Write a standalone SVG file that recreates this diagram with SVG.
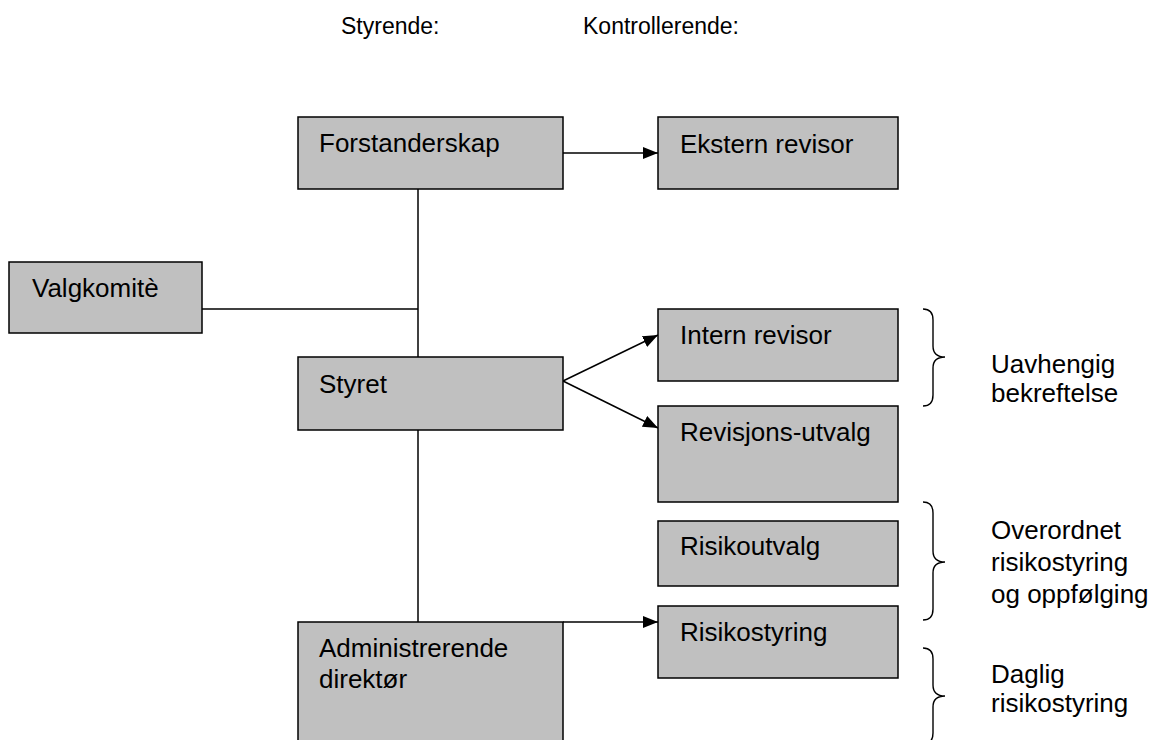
<svg xmlns="http://www.w3.org/2000/svg" width="1161" height="740" viewBox="0 0 1161 740">
<style>
.box{fill:#c0c0c0;stroke:#000;stroke-width:1.5}
.t{font-family:"Liberation Sans",Arial,sans-serif;font-size:26px;fill:#000}
.h{font-family:"Liberation Sans",Arial,sans-serif;font-size:23px;fill:#000}
.ln{stroke:#000;stroke-width:1.5;fill:none}
.br{stroke:#000;stroke-width:1.4;fill:none}
</style>
<defs>
<marker id="arr" viewBox="0 0 15 12" refX="15" refY="6" markerWidth="15" markerHeight="12" markerUnits="userSpaceOnUse" orient="auto">
<path d="M0,0 L15,6 L0,12 Z" fill="#000"/>
</marker>
</defs>
<rect width="1161" height="740" fill="#fff"/>
<text class="h" x="341" y="34">Styrende:</text>
<text class="h" x="583" y="34">Kontrollerende:</text>
<g id="connectors">
<line class="ln" x1="418" y1="189" x2="418" y2="357"/>
<line class="ln" x1="418" y1="430" x2="418" y2="622"/>
<line class="ln" x1="202" y1="309" x2="418" y2="309"/>
<line class="ln" x1="563" y1="153" x2="658" y2="153" marker-end="url(#arr)"/>
<line class="ln" x1="563" y1="381" x2="658" y2="335" marker-end="url(#arr)"/>
<line class="ln" x1="563" y1="381" x2="658" y2="428" marker-end="url(#arr)"/>
<line class="ln" x1="563" y1="622" x2="658" y2="622" marker-end="url(#arr)"/>
</g>
<g id="forstanderskap"><rect class="box" x="298" y="117" width="265" height="72"/><text class="t" x="319" y="152">Forstanderskap</text></g>
<g id="ekstern-revisor"><rect class="box" x="658" y="117" width="240" height="72"/><text class="t" x="680" y="153">Ekstern revisor</text></g>
<g id="valgkomite"><rect class="box" x="9" y="262" width="193" height="71"/><text class="t" x="32" y="297">Valgkomitè</text></g>
<g id="styret"><rect class="box" x="298" y="357" width="265" height="73"/><text class="t" x="319" y="393">Styret</text></g>
<g id="intern-revisor"><rect class="box" x="658" y="309" width="240" height="72"/><text class="t" x="680" y="344">Intern revisor</text></g>
<g id="revisjonsutvalg"><rect class="box" x="658" y="406" width="240" height="96"/><text class="t" x="680" y="441">Revisjons-utvalg</text></g>
<g id="risikoutvalg"><rect class="box" x="658" y="521" width="240" height="65"/><text class="t" x="680" y="555">Risikoutvalg</text></g>
<g id="risikostyring"><rect class="box" x="658" y="606" width="240" height="72"/><text class="t" x="680" y="641">Risikostyring</text></g>
<g id="administrerende-direktor"><rect class="box" x="298" y="622" width="265" height="140"/><text class="t" x="319" y="657">Administrerende</text><text class="t" x="319" y="688">direktør</text></g>
<g id="brace-uavhengig">
<path class="br" d="M923,309 Q933,309 933,320 L933,346 Q933,357 945,357 Q933,357 933,368 L933,395 Q933,406 923,406"/>
<text class="t" x="991" y="373">Uavhengig</text><text class="t" x="991" y="402">bekreftelse</text>
</g>
<g id="brace-overordnet">
<path class="br" d="M923,502 Q933,502 933,513 L933,551 Q933,562 945,562 Q933,562 933,573 L933,609 Q933,620 923,620"/>
<text class="t" x="991" y="539">Overordnet</text><text class="t" x="991" y="571">risikostyring</text><text class="t" x="991" y="603">og oppfølging</text>
</g>
<g id="brace-daglig">
<path class="br" d="M923,648 Q933,648 933,659 L933,685 Q933,696 945,696 Q933,696 933,707 L933,733 Q933,744 923,744"/>
<text class="t" x="991" y="683">Daglig</text><text class="t" x="991" y="712">risikostyring</text>
</g>
</svg>
